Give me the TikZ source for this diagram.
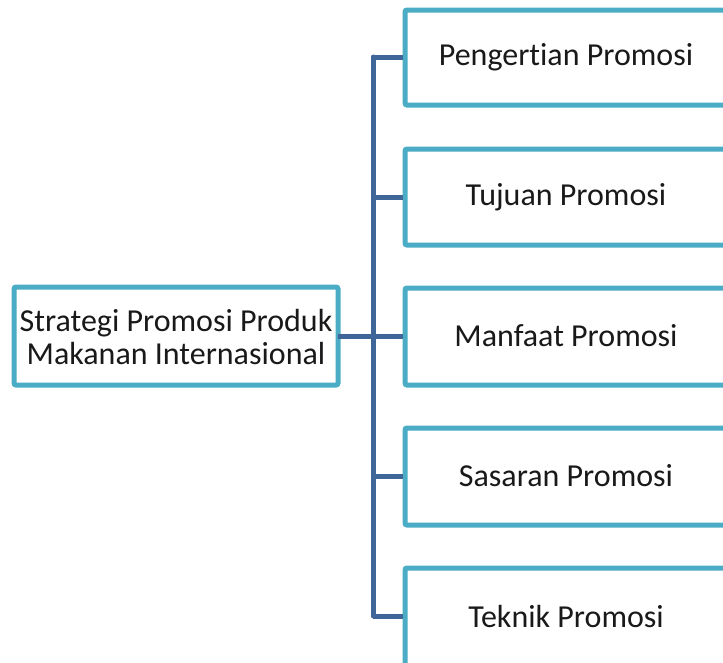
\documentclass[tikz,border=0pt]{standalone}
\usepackage{fontspec}
\setmainfont[Ligatures=NoCommon]{Carlito}
\begin{document}
\begin{tikzpicture}[x=1pt,y=-1pt,
  topicbox/.style={draw=boxcyan,line width=5pt,rounded corners=2pt,fill=white},
  branch/.style={draw=linkblue,line width=5pt},
  label/.style={font=\fontsize{32}{33}\selectfont,align=center,text=black!90}]
\definecolor{boxcyan}{HTML}{4BACC6}
\definecolor{linkblue}{HTML}{3F6699}
\useasboundingbox (0,0) rectangle (723,662);
\begin{scope}
\clip (0,0) rectangle (723,662);
% spine from the first topic down to the last one
\coordinate (spineTop) at (373,57);
\coordinate (spineBot) at (373,616);
\draw[branch,line cap=round] (spineTop) -- (spineBot);
% boxes
\draw[topicbox] (14,287) rectangle (338,385);
\draw[topicbox] (405,10) rectangle (730,105);
\draw[topicbox] (405,149) rectangle (730,245);
\draw[topicbox] (405,288) rectangle (730,385);
\draw[topicbox] (405,428) rectangle (730,525);
\draw[topicbox] (405,568) rectangle (730,670);
\node[label] (root) at (176,337) {Strategi Promosi Produk\\Makanan Internasional};
\node[label] (t1) at (566,57) {Pengertian Promosi};
\node[label] (t2) at (566,197) {Tujuan Promosi};
\node[label] (t3) at (566,336) {Manfaat Promosi};
\node[label] (t4) at (566,476) {Sasaran Promosi};
\node[label] (t5) at (566,616) {Teknik Promosi};
% branch ends on the topic boxes
\coordinate (r) at (338,336);
\coordinate (s2) at (373,197);
\coordinate (s4) at (373,476);
\coordinate (b1) at (403,57);
\coordinate (b2) at (403,197);
\coordinate (b3) at (403,336);
\coordinate (b4) at (403,476);
\coordinate (b5) at (403,616);
\draw[branch] (r) -- (b3);
\draw[branch] (spineTop) -- (b1);
\draw[branch] (s2) -- (b2);
\draw[branch] (s4) -- (b4);
\draw[branch] (spineBot) -- (b5);
\end{scope}
\end{tikzpicture}
\end{document}
